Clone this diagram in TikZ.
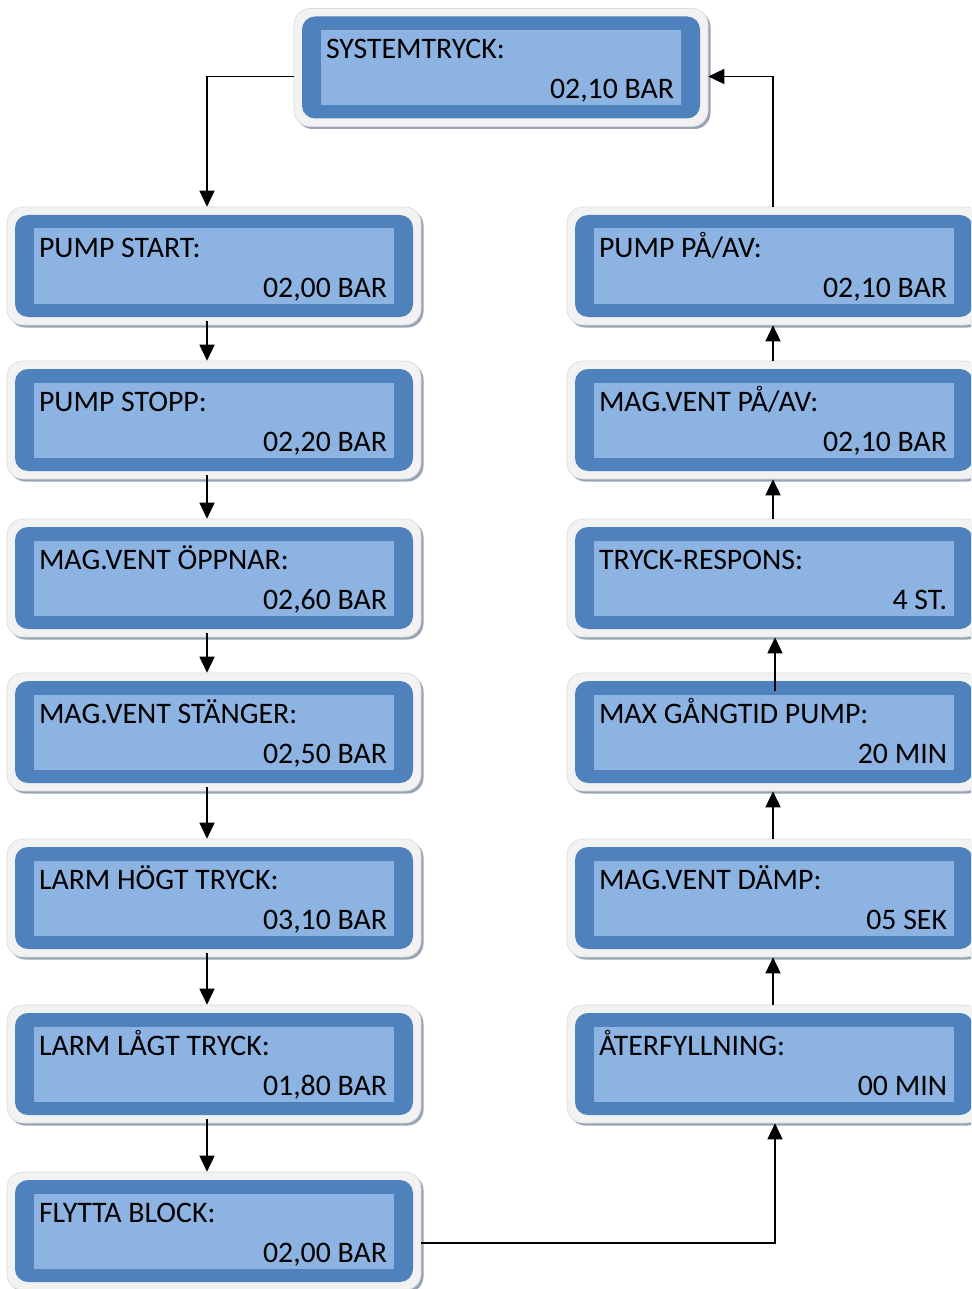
\documentclass[tikz,border=0pt]{standalone}
\usepackage{fontspec}
\setmainfont{Carlito}
\usetikzlibrary{arrows.meta,shadows}
\definecolor{rimc}{HTML}{F2F2F2}
\definecolor{rimborder}{HTML}{DADADA}
\definecolor{shadowc}{HTML}{98A3B6}
\definecolor{darkc}{HTML}{4F81BD}
\definecolor{lightc}{HTML}{8DB3E2}
\tikzset{
  rim/.style={rounded corners=16pt, minimum width=414pt, minimum height=118pt, inner sep=0pt,
    fill=rimc, draw=rimborder, line width=0.6pt,
    drop shadow={shadow xshift=2.5pt, shadow yshift=-2.5pt, fill=shadowc, opacity=1}},
  darkbox/.style={rounded corners=13pt, minimum width=398pt, minimum height=102pt, inner sep=0pt, fill=darkc},
  innerbox/.style={minimum width=360pt, minimum height=75pt, inner sep=0pt, fill=lightc},
  ttl/.style={anchor=base west, inner sep=0pt, font=\fontsize{29.8pt}{33pt}\selectfont},
  val/.style={anchor=base east, inner sep=0pt, font=\fontsize{29.8pt}{33pt}\selectfont},
  arr/.style={-{Triangle[length=16pt,width=15pt]}, line width=1.5pt, black}
}
\newcommand\panel[5]{%
  \node[rim] (#1) at (#2,#3) {};
  \node[darkbox] (#1d) at (#2,#3) {};
  \node[innerbox] (#1i) at (#2,#3) {};
  \node[ttl] (#1t) at ([xshift=24pt,yshift=-42.5pt]#1d.north west) {#4};
  \node[val] (#1v) at ([xshift=-26pt,yshift=-82.5pt]#1d.north east) {#5};
}
\begin{document}
\begin{tikzpicture}[x=1pt,y=-1pt]
\useasboundingbox (0,0) rectangle (971,1289);
\clip (0,0) rectangle (971,1289);
\fill[white] (0,0) rectangle (971,1289);
\panel{top}{501}{67.5}{SYSTEMTRYCK:}{02,10 BAR}
\panel{ps}{214}{266}{PUMP START:}{02,00 BAR}
\panel{pst}{214}{420}{PUMP STOPP:}{02,20 BAR}
\panel{mvo}{214}{578}{MAG.VENT ÖPPNAR:}{02,60 BAR}
\panel{mvs}{214}{732}{MAG.VENT STÄNGER:}{02,50 BAR}
\panel{lht}{214}{898}{LARM HÖGT TRYCK:}{03,10 BAR}
\panel{llt}{214}{1064}{LARM LÅGT TRYCK:}{01,80 BAR}
\panel{fb}{214}{1231}{FLYTTA BLOCK:}{02,00 BAR}
\panel{ppa}{774}{266}{PUMP PÅ/AV:}{02,10 BAR}
\panel{mvpa}{774}{420}{MAG.VENT PÅ/AV:}{02,10 BAR}
\panel{tr}{774}{578}{TRYCK-RESPONS:}{4 ST.}
\panel{mgp}{774}{732}{MAX GÅNGTID PUMP:}{20 MIN}
\panel{mvd}{774}{898}{MAG.VENT DÄMP:}{05 SEK}
\panel{atf}{774}{1064}{ÅTERFYLLNING:}{00 MIN}
% left column
\draw[arr] ([yshift=-9pt]top.west) -| ([xshift=-7pt]ps.north);
\draw[arr] ([xshift=-7pt,yshift=4pt]ps.south) -- ([xshift=-7pt]pst.north);
\draw[arr] ([xshift=-7pt,yshift=4pt]pst.south) -- ([xshift=-7pt]mvo.north);
\draw[arr] ([xshift=-7pt,yshift=4pt]mvo.south) -- ([xshift=-7pt]mvs.north);
\draw[arr] ([xshift=-7pt,yshift=4pt]mvs.south) -- ([xshift=-7pt]lht.north);
\draw[arr] ([xshift=-7pt,yshift=4pt]lht.south) -- ([xshift=-7pt]llt.north);
\draw[arr] ([xshift=-7pt,yshift=4pt]llt.south) -- ([xshift=-7pt]fb.north);
% right column
\draw[arr] ([yshift=-12pt]fb.east) -| ([xshift=1pt]atf.south);
\draw[arr] ([xshift=-1pt]atf.north) -- ([xshift=-1pt]mvd.south);
\draw[arr] ([xshift=-1pt]mvd.north) -- ([xshift=-1pt]mgp.south);
\draw[arr] ([xshift=1pt,yshift=-18pt]mgp.north) -- ([xshift=1pt]tr.south);
\draw[arr] ([xshift=-1pt]tr.north) -- ([xshift=-1pt]mvpa.south);
\draw[arr] ([xshift=-1pt]mvpa.north) -- ([xshift=-1pt]ppa.south);
\draw[arr] ([xshift=-1pt]ppa.north) |- ([yshift=-9pt]top.east);
\end{tikzpicture}
\end{document}
